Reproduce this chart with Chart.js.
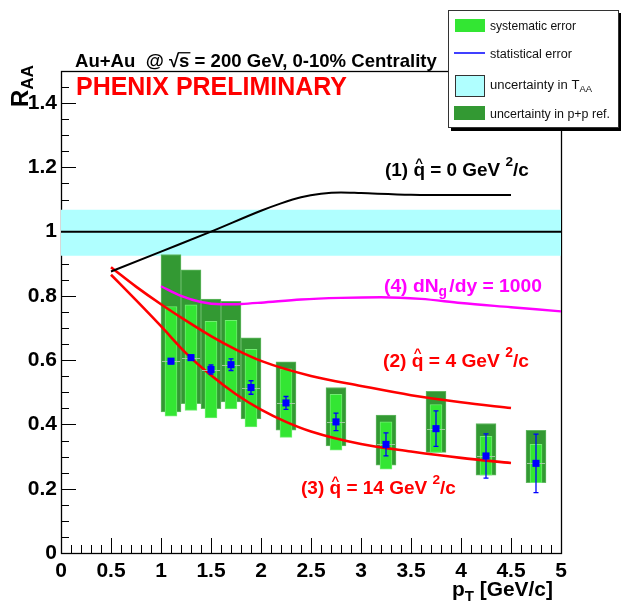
<!DOCTYPE html>
<html><head><meta charset="utf-8">
<script src="https://cdn.jsdelivr.net/npm/chart.js@4.4.0/dist/chart.umd.min.js"></script>
<style>html,body{margin:0;padding:0;background:#fff;}canvas{display:block;}</style>
</head><body>
<canvas id="c" width="621" height="604"></canvas>
<script>
// ---- data ----
const ptBins   = [1.1, 1.3, 1.5, 1.7, 1.9, 2.25, 2.75, 3.25, 3.75, 4.25, 4.75];
const raa      = [0.597, 0.608, 0.571, 0.586, 0.515, 0.467, 0.408, 0.338, 0.387, 0.302, 0.279];
const statErr  = [0.008, 0.008, 0.014, 0.018, 0.021, 0.020, 0.027, 0.036, 0.055, 0.069, 0.091];
const sysLow   = [0.426, 0.444, 0.420, 0.448, 0.392, 0.360, 0.320, 0.261, 0.313, 0.242, 0.219];
const sysHigh  = [0.767, 0.772, 0.721, 0.724, 0.634, 0.573, 0.494, 0.408, 0.462, 0.363, 0.338];
const ppLow    = [0.439, 0.465, 0.449, 0.470, 0.417, 0.382, 0.333, 0.273, 0.313, 0.242, 0.219];
const ppHigh   = [0.929, 0.881, 0.790, 0.783, 0.670, 0.595, 0.515, 0.429, 0.503, 0.403, 0.382];

const qhat0X  = [0.5, 1.0, 1.5, 2.0, 2.2, 2.4, 2.6, 2.8, 3.0, 3.5, 4.0, 4.5];
const qhat0Y  = [0.876, 0.938, 1.0, 1.065, 1.088, 1.107, 1.118, 1.122, 1.12, 1.115, 1.114, 1.114];
const qhat4X  = [0.5, 0.75, 1.0, 1.25, 1.5, 1.75, 2.0, 2.5, 3.0, 3.5, 4.0, 4.5];
const qhat4Y  = [0.889, 0.829, 0.774, 0.723, 0.675, 0.633, 0.598, 0.551, 0.52, 0.491, 0.469, 0.451];
const qhat14X = [0.5, 0.75, 1.0, 1.25, 1.5, 1.75, 2.0, 2.25, 2.5, 3.0, 3.5, 4.0, 4.5];
const qhat14Y = [0.866, 0.787, 0.706, 0.622, 0.553, 0.494, 0.446, 0.408, 0.378, 0.339, 0.316, 0.296, 0.28];
const dNgX    = [1.0, 1.2, 1.4, 1.6, 1.8, 2.0, 2.4, 2.8, 3.2, 3.6, 4.0, 4.5, 5.0];
const dNgY    = [0.83, 0.80, 0.781, 0.774, 0.775, 0.779, 0.789, 0.794, 0.796, 0.791, 0.778, 0.765, 0.752];

const taaLow = 0.925, taaHigh = 1.068, unity = 1.0;
const xRange = [0, 5], yRange = [0, 1.5];
const xTicks = [0, 0.5, 1, 1.5, 2, 2.5, 3, 3.5, 4, 4.5, 5];
const yTicks = [0, 0.2, 0.4, 0.6, 0.8, 1, 1.2, 1.4];

// ---- helpers ----
const FAM = '"Liberation Sans", Arial, Helvetica, sans-serif';
function fontStr(size, bold) { return (bold === false ? '' : 'bold ') + size.toFixed(2) + 'px ' + FAM; }
function richWidth(ctx, parts, s) {
  let w = 0;
  for (const p of parts) {
    const fs = (p.sup || p.sub) ? s * 0.72 : s;
    ctx.font = fontStr(fs, p.bold);
    w += ctx.measureText(p.t).width + (p.gap || 0) * s;
  }
  return w;
}
function drawRich(ctx, parts, x, y, targetW, color) {
  const s = 100 * targetW / richWidth(ctx, parts, 100);
  ctx.save();
  ctx.fillStyle = color; ctx.strokeStyle = color;
  ctx.textBaseline = 'alphabetic'; ctx.textAlign = 'left';
  let cx = x;
  for (const p of parts) {
    const fs = (p.sup || p.sub) ? s * 0.72 : s;
    ctx.font = fontStr(fs, p.bold);
    const w = ctx.measureText(p.t).width;
    let py = y;
    if (p.sup) py = y - s * 0.52;
    if (p.sub) py = y + s * 0.22;
    ctx.fillText(p.t, cx, py);
    if (p.hat) {
      ctx.font = fontStr(s * 0.7, p.bold);
      const hw = ctx.measureText('^').width;
      ctx.fillText('^', cx + w / 2 - hw / 2, y - s * 0.47);
    }
    if (p.over) {
      ctx.lineWidth = Math.max(1, s * 0.07);
      ctx.beginPath(); ctx.moveTo(cx - 1, y - s * 0.74); ctx.lineTo(cx + w + 1, y - s * 0.74); ctx.stroke();
    }
    cx += w + (p.gap || 0) * s;
  }
  ctx.restore();
}

// ---- plugins ----
const frameTicks = {
  id: 'frameTicks',
  beforeDatasetsDraw(chart) {
    const { ctx, chartArea: a, scales: { x, y } } = chart;
    ctx.save();
    ctx.strokeStyle = '#000'; ctx.lineWidth = 1;
    ctx.beginPath();
    for (let i = 0; i <= 30; i++) {
      const py = Math.round(y.getPixelForValue(i * 0.05)) + 0.5;
      const len = (i % 4 === 0) ? 15 : 8;
      ctx.moveTo(a.left, py); ctx.lineTo(a.left + len, py);
    }
    for (let i = 0; i <= 50; i++) {
      const px = Math.round(x.getPixelForValue(i * 0.1)) + 0.5;
      const len = (i % 5 === 0) ? 15 : 8;
      ctx.moveTo(px, a.bottom); ctx.lineTo(px, a.bottom - len);
    }
    ctx.stroke();
    ctx.lineWidth = 1.3;
    ctx.strokeRect(Math.round(a.left) + 0.5, Math.round(a.top) + 0.5, Math.round(a.right - a.left), Math.round(a.bottom - a.top));
    ctx.restore();
  }
};

const boxCentres = {
  id: 'boxCentres',
  beforeDatasetDraw(chart, args) {
    if (args.index !== 0) return;
    const { ctx, scales: { x, y } } = chart;
    ctx.save();
    ctx.strokeStyle = 'rgba(170,205,170,0.9)'; ctx.lineWidth = 1;
    ctx.beginPath();
    ptBins.forEach((v, i) => {
      const px = x.getPixelForValue(v);
      const py = Math.round(y.getPixelForValue(raa[i])) + 0.5;
      ctx.moveTo(px - 9, py); ctx.lineTo(px + 9, py);
    });
    ctx.stroke();
    ctx.restore();
  }
};

const errorBars = {
  id: 'errorBars',
  afterDatasetsDraw(chart) {
    const { ctx, scales: { x, y } } = chart;
    ctx.save();
    ctx.strokeStyle = '#0000ff'; ctx.lineWidth = 1.3;
    ctx.beginPath();
    ptBins.forEach((v, i) => {
      const px = x.getPixelForValue(v);
      const y1 = y.getPixelForValue(raa[i] - statErr[i]);
      const y2 = y.getPixelForValue(raa[i] + statErr[i]);
      ctx.moveTo(px, y1); ctx.lineTo(px, y2);
      ctx.moveTo(px - 2.5, y1); ctx.lineTo(px + 2.5, y1);
      ctx.moveTo(px - 2.5, y2); ctx.lineTo(px + 2.5, y2);
    });
    ctx.stroke();
    ctx.restore();
  }
};

const annotations = {
  id: 'annotations',
  afterDraw(chart) {
    const ctx = chart.ctx;
    // title
    drawRich(ctx, [{t: 'Au+Au  @ '}, {t: '\u221A'}, {t: 's', over: true}, {t: ' = 200 GeV, 0-10% Centrality'}], 75, 66.5, 362, '#000');
    drawRich(ctx, [{t: 'PHENIX PRELIMINARY'}], 76, 95, 271, '#ff0000');
    // curve labels
    drawRich(ctx, [{t: '(1) '}, {t: 'q', hat: true}, {t: ' = 0 GeV '}, {t: '2', sup: true}, {t: '/c'}], 385, 176, 144, '#000');
    drawRich(ctx, [{t: '(4) dN'}, {t: 'g', sub: true, gap: 0.12}, {t: '/dy = 1000'}], 384, 291.5, 158, '#ff00ff');
    drawRich(ctx, [{t: '(2) '}, {t: 'q', hat: true}, {t: ' = 4 GeV '}, {t: '2', sup: true}, {t: '/c'}], 383, 366.5, 146, '#ff0000');
    drawRich(ctx, [{t: '(3) '}, {t: 'q', hat: true}, {t: ' = 14 GeV '}, {t: '2', sup: true}, {t: '/c'}], 301, 493.5, 155, '#ff0000');
    // axis titles
    drawRich(ctx, [{t: 'p'}, {t: 'T', sub: true}, {t: ' [GeV/c]'}], 452, 596, 101, '#000');
    ctx.save();
    ctx.translate(28, 107); ctx.rotate(-Math.PI / 2);
    drawRich(ctx, [{t: 'R'}, {t: 'AA', sub: true}], 0, 0, 42, '#000');
    ctx.restore();
    // legend
    ctx.save();
    ctx.fillStyle = '#000';
    ctx.fillRect(451, 128, 170, 3);
    ctx.fillRect(619, 13, 3, 118);
    ctx.fillStyle = '#fff';
    ctx.fillRect(448, 10, 171, 118);
    ctx.strokeStyle = '#333'; ctx.lineWidth = 1;
    ctx.strokeRect(448.5, 10.5, 170, 117);
    ctx.fillStyle = '#33e633'; ctx.fillRect(455, 19, 30, 13);
    ctx.strokeStyle = '#0000ff'; ctx.lineWidth = 1.5;
    ctx.beginPath(); ctx.moveTo(454, 53); ctx.lineTo(485, 53); ctx.stroke();
    ctx.fillStyle = '#b0ffff'; ctx.fillRect(455, 75, 30, 22);
    ctx.strokeStyle = '#333'; ctx.lineWidth = 1; ctx.strokeRect(455.5, 75.5, 29, 21);
    ctx.fillStyle = '#339933'; ctx.fillRect(454, 106, 31, 14);
    ctx.restore();
    drawRich(ctx, [{t: 'systematic error', bold: false}], 490, 29.5, 86, '#111');
    drawRich(ctx, [{t: 'statistical error', bold: false}], 490, 57.5, 82, '#111');
    drawRich(ctx, [{t: 'uncertainty in T', bold: false}, {t: 'AA', sub: true, bold: false}], 490, 89, 102, '#111');
    drawRich(ctx, [{t: 'uncertainty in p+p ref.', bold: false}], 490, 117.5, 120, '#111');
  }
};

// ---- chart ----
const xy = (xs, ys) => xs.map((v, i) => ({x: v, y: ys[i]}));
const curve = (xs, ys, color, w) => ({
  type: 'line', data: xy(xs, ys), borderColor: color, borderWidth: w,
  pointRadius: 0, fill: false, cubicInterpolationMode: 'monotone', order: 5
});

new Chart(document.getElementById('c'), {
  type: 'scatter',
  data: {
    datasets: [
      { type: 'scatter', data: xy(ptBins, raa), pointStyle: 'rect', pointRadius: 5,
        backgroundColor: '#0000ff', borderWidth: 0, order: 1 },
      curve(qhat0X, qhat0Y, '#000000', 2),
      curve(qhat4X, qhat4Y, '#ff0000', 2.6),
      curve(qhat14X, qhat14Y, '#ff0000', 2.6),
      curve(dNgX, dNgY, '#ff00ff', 2.4),
      { type: 'line', data: [{x: xRange[0], y: unity}, {x: xRange[1], y: unity}], borderColor: '#000',
        borderWidth: 2, pointRadius: 0, fill: false, order: 8 },
      { type: 'bar', data: ptBins.map((v, i) => ({x: v, y: [sysLow[i], sysHigh[i]]})),
        backgroundColor: '#33e633', borderColor: '#70ee70', borderWidth: 1, borderSkipped: false,
        barThickness: 12, maxBarThickness: 12, grouped: false, order: 12 },
      { type: 'bar', data: ptBins.map((v, i) => ({x: v, y: [ppLow[i], ppHigh[i]]})),
        backgroundColor: '#339933', borderColor: '#62b862', borderWidth: 1, borderSkipped: false,
        barThickness: 20, maxBarThickness: 20, grouped: false, order: 14 },
      { type: 'line', data: [{x: xRange[0], y: taaLow}, {x: xRange[1], y: taaLow}], borderWidth: 0,
        borderColor: 'rgba(0,0,0,0)', pointRadius: 0, fill: false, order: 20 },
      { type: 'line', data: [{x: xRange[0], y: taaHigh}, {x: xRange[1], y: taaHigh}], borderWidth: 0,
        borderColor: 'rgba(0,0,0,0)', pointRadius: 0, fill: '-1', backgroundColor: '#b0ffff', order: 19 }
    ]
  },
  options: {
    responsive: false, animation: false, devicePixelRatio: 1, events: [],
    layout: { padding: { top: 71, right: 60, left: 0, bottom: 0 } },
    plugins: { legend: { display: false }, tooltip: { enabled: false } },
    scales: {
      x: {
        type: 'linear', min: xRange[0], max: xRange[1], offset: false,
        grid: { display: false, drawTicks: false, offset: false }, border: { display: false },
        afterBuildTicks: s => { s.ticks = xTicks.map(v => ({value: v})); },
        afterFit: s => { s.height = 51; },
        ticks: { autoSkip: false, maxRotation: 0, padding: 6, color: '#000',
          font: { family: FAM, size: 21, weight: 'bold' }, callback: v => String(v) }
      },
      y: {
        type: 'linear', min: yRange[0], max: yRange[1],
        grid: { display: false, drawTicks: false }, border: { display: false },
        afterBuildTicks: s => { s.ticks = yTicks.map(v => ({value: v})); },
        afterFit: s => { s.width = 61; },
        ticks: { autoSkip: false, padding: 4, color: '#000',
          font: { family: FAM, size: 21, weight: 'bold' }, callback: v => String(v) }
      }
    }
  },
  plugins: [frameTicks, boxCentres, errorBars, annotations]
});
</script>
</body></html>
